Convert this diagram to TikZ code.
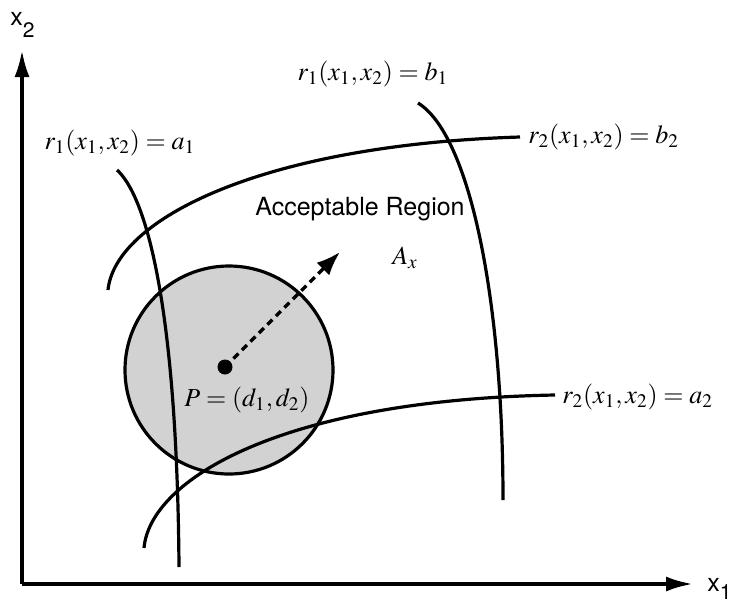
\documentclass[tikz,border=0pt]{standalone}
\usepackage{mathptmx}
\usepackage[no-math]{fontspec}
\setsansfont{TeX Gyre Heros}
\usetikzlibrary{arrows.meta}
\tikzset{
  curve/.style={line width=1.6pt},
  axis/.style={line width=1.8pt,-{Latex[length=13.5pt,width=7.5pt]}},
  lab/.style={font=\fontsize{13}{15}\selectfont,inner sep=0pt},
  axlab/.style={font=\fontsize{12.5}{14}\sffamily,inner sep=0pt}
}
\begin{document}
\begin{tikzpicture}[x=0.5pt,y=-0.5pt]
\useasboundingbox (0,0) rectangle (730,601);
% axes
\coordinate (O) at (22,584);
\coordinate (Xend) at (693,584);
\coordinate (Yend) at (22,50);
\draw[axis] (O) -- (Xend);
\draw[axis] (O) -- (Yend);
\node[axlab,anchor=base west] (xtwo) at (10,25) {x\raisebox{-6pt}{\fontsize{10.5}{12}\selectfont 2}};
\node[axlab,anchor=base west] (xone) at (707,591) {x\raisebox{-4pt}{\fontsize{10.5}{12}\selectfont 1}};
% tolerance circle
\draw[line width=1.6pt,fill=gray!35] (229,370) circle[radius=52pt];
% constraint curves
\draw[curve] (117,170) .. controls (145,195) and (177,300) .. (179,567);
\draw[curve] (418,103) .. controls (470,135) and (503,300) .. (503,500);
\draw[curve] (108,290) .. controls (115,220) and (260,145) .. (520,137);
\draw[curve] (144,548) .. controls (150,480) and (280,400) .. (555,395);
% nominal point and direction
\node[circle,fill,inner sep=0pt,minimum size=7.5pt] (P) at (225,367) {};
\coordinate (dir) at (340,252);
\draw[line width=1.7pt,dash pattern=on 3.5pt off 2.5pt,-{Latex[length=12pt,width=9pt]}] (P.center) -- (dir);
% labels
\node[lab] (ra1) at (120,143) {$r_1(x_1, x_2) = a_1$};
\node[lab] (rb1) at (373,74) {$r_1(x_1, x_2) = b_1$};
\node[lab,anchor=west] (rb2) at (528,137) {$r_2(x_1, x_2) = b_2$};
\node[lab,anchor=west] (ra2) at (562,397) {$r_2(x_1, x_2) = a_2$};
\node[lab] (Pd) at (247,400) {$P = (d_1, d_2)$};
\node[lab] (Ax) at (405,258) {$A_x$};
\node[font=\fontsize{12.5}{14}\sffamily,inner sep=0pt] (acc) at (360,209) {Acceptable Region};
\end{tikzpicture}
\end{document}
